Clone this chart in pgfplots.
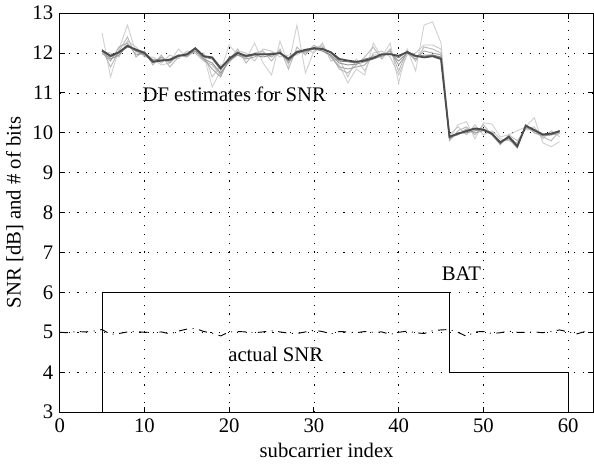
\documentclass[border=0pt]{standalone}
\usepackage{fontspec}
\setmainfont{Liberation Serif}
\usepackage{pgfplots}
\pgfplotsset{compat=1.18}
\begin{document}
\begin{tikzpicture}[font=\fontsize{11.2}{13.5}\selectfont]
\begin{axis}[
  scale only axis,
  width=289pt, height=216pt,
  xmin=0, xmax=63, ymin=3, ymax=13,
  xtick={0,10,20,30,40,50,60},
  ytick={3,4,5,6,7,8,9,10,11,12,13},
  tick align=inside, tick pos=both,
  major tick length=3pt,
  grid=major,
  grid style={black, line width=0.4pt, dash pattern=on 0.6pt off 4.2pt},
  axis line style={black, line width=0.5pt},
  every tick/.style={black, line width=0.5pt},
  /pgf/number format/assume math mode=true,
  xlabel={subcarrier index},
  ylabel={SNR [dB] and \# of bits},
  xlabel style={yshift=1pt},
  ylabel style={yshift=-2pt},
  tick label style={font=\fontsize{11.2}{13.5}\selectfont},
  label style={font=\fontsize{11.2}{13.5}\selectfont},
]
% light gray estimates
\addplot[color=black!18, line width=0.5pt] coordinates {
(5,12.50)(6,11.40)(7,12.10)(8,12.70)(9,12.00)(10,11.95)(11,11.85)(12,11.70)(13,11.75)(14,12.10)
(15,11.90)(16,12.05)(17,11.95)(18,11.15)(19,11.55)(20,12.20)(21,11.95)(22,11.85)(23,12.25)(24,11.75)
(25,11.45)(26,12.30)(27,11.70)(28,12.70)(29,11.50)(30,12.05)(31,12.20)(32,11.90)(33,11.70)(34,11.25)
(35,11.60)(36,11.45)(37,12.25)(38,11.90)(39,12.25)(40,11.25)(41,12.10)(42,11.55)(43,12.70)(44,12.78)
(45,12.25)(46,9.85)(47,10.20)(48,10.28)(49,9.85)(50,10.25)(51,10.22)(52,9.90)(53,9.95)(54,10.05)
(55,10.15)(56,10.38)(57,9.75)(58,9.65)(59,9.78)};
\addplot[color=black!22, line width=0.5pt] coordinates {
(5,12.02)(6,12.00)(7,11.90)(8,12.30)(9,12.15)(10,11.90)(11,11.90)(12,11.75)(13,11.95)(14,11.85)
(15,12.05)(16,12.00)(17,12.00)(18,11.40)(19,11.70)(20,11.75)(21,12.05)(22,12.00)(23,11.80)(24,12.10)
(25,12.05)(26,11.90)(27,11.95)(28,11.95)(29,12.10)(30,12.00)(31,12.25)(32,11.80)(33,11.85)(34,11.40)
(35,11.85)(36,11.55)(37,12.00)(38,12.05)(39,11.90)(40,11.45)(41,11.95)(42,12.00)(43,12.20)(44,12.20)
(45,12.10)(46,9.95)(47,10.15)(48,9.95)(49,10.20)(50,9.95)(51,10.05)(52,9.85)(53,9.80)(54,9.75)
(55,10.10)(56,10.15)(57,9.85)(58,10.05)(59,9.90)};
\addplot[color=black!28, line width=0.5pt] coordinates {
(5,12.10)(6,11.65)(7,12.05)(8,12.40)(9,11.90)(10,12.05)(11,11.70)(12,11.95)(13,11.65)(14,11.90)
(15,12.00)(16,12.00)(17,11.80)(18,11.70)(19,11.45)(20,11.80)(21,12.10)(22,11.75)(23,12.00)(24,12.05)
(25,11.80)(26,12.10)(27,11.60)(28,12.15)(29,11.95)(30,12.20)(31,12.05)(32,11.95)(33,11.60)(34,11.50)
(35,11.70)(36,11.90)(37,12.15)(38,11.85)(39,12.10)(40,11.55)(41,12.05)(42,11.80)(43,12.15)(44,12.10)
(45,12.00)(46,9.80)(47,10.05)(48,10.15)(49,9.95)(50,10.20)(51,9.95)(52,9.70)(53,9.95)(54,9.80)
(55,10.10)(56,10.05)(57,9.90)(58,9.80)(59,10.05)};
\addplot[color=black!35, line width=0.5pt] coordinates {
(5,12.00)(6,11.80)(7,12.15)(8,12.25)(9,11.95)(10,12.00)(11,11.75)(12,11.90)(13,11.75)(14,11.95)
(15,11.90)(16,12.10)(17,11.85)(18,11.60)(19,11.40)(20,11.90)(21,11.95)(22,11.85)(23,11.90)(24,12.00)
(25,11.90)(26,12.05)(27,11.75)(28,12.05)(29,12.00)(30,12.15)(31,12.15)(32,11.90)(33,11.65)(34,11.60)
(35,11.65)(36,11.70)(37,11.95)(38,11.95)(39,12.05)(40,11.70)(41,12.00)(42,11.85)(43,12.05)(44,12.00)
(45,11.95)(46,9.88)(47,9.95)(48,10.10)(49,10.00)(50,10.05)(51,10.00)(52,9.75)(53,9.85)(54,9.62)
(55,10.20)(56,10.00)(57,9.92)(58,9.95)(59,9.98)};
\addplot[color=black!42, line width=0.5pt] coordinates {
(5,12.05)(6,11.85)(7,11.95)(8,12.20)(9,12.05)(10,11.95)(11,11.80)(12,11.80)(13,11.85)(14,11.95)
(15,11.95)(16,12.05)(17,11.85)(18,11.75)(19,11.50)(20,11.80)(21,11.95)(22,11.90)(23,11.95)(24,11.90)
(25,11.95)(26,12.00)(27,11.80)(28,12.00)(29,12.05)(30,12.10)(31,12.05)(32,11.95)(33,11.75)(34,11.70)
(35,11.72)(36,11.78)(37,11.85)(38,11.92)(39,12.00)(40,11.80)(41,12.00)(42,11.90)(43,11.95)(44,11.95)
(45,11.90)(46,9.85)(47,10.00)(48,10.00)(49,10.05)(50,10.10)(51,9.95)(52,9.72)(53,9.92)(54,9.70)
(55,10.15)(56,10.05)(57,9.95)(58,9.95)(59,10.02)};
\addplot[color=black!50, line width=0.5pt] coordinates {
(5,12.08)(6,11.90)(7,12.00)(8,12.15)(9,12.10)(10,12.02)(11,11.82)(12,11.85)(13,11.80)(14,11.92)
(15,11.98)(16,12.10)(17,11.90)(18,11.85)(19,11.58)(20,11.88)(21,12.02)(22,11.90)(23,11.98)(24,11.95)
(25,12.00)(26,11.98)(27,11.88)(28,12.05)(29,12.05)(30,12.10)(31,12.12)(32,12.00)(33,11.80)(34,11.78)
(35,11.75)(36,11.85)(37,11.90)(38,11.95)(39,11.98)(40,11.88)(41,12.05)(42,11.92)(43,11.92)(44,11.95)
(45,11.88)(46,9.92)(47,9.96)(48,10.06)(49,10.08)(50,10.06)(51,9.96)(52,9.78)(53,9.88)(54,9.68)
(55,10.16)(56,10.08)(57,9.94)(58,9.96)(59,10.06)};
% dark estimate
\addplot[color=black!70, line width=1pt] coordinates {
(5,12.06)(6,11.93)(7,12.02)(8,12.18)(9,12.08)(10,12.00)(11,11.78)(12,11.81)(13,11.83)(14,11.93)
(15,11.96)(16,12.12)(17,11.92)(18,11.89)(19,11.62)(20,11.85)(21,12.00)(22,11.93)(23,11.97)(24,11.97)
(25,11.97)(26,12.00)(27,11.85)(28,12.02)(29,12.08)(30,12.12)(31,12.10)(32,12.02)(33,11.85)(34,11.81)
(35,11.78)(36,11.81)(37,11.87)(38,11.97)(39,11.97)(40,11.93)(41,12.02)(42,11.93)(43,11.89)(44,11.92)
(45,11.85)(46,9.90)(47,9.98)(48,10.04)(49,10.11)(50,10.08)(51,9.98)(52,9.76)(53,9.90)(54,9.66)
(55,10.18)(56,10.07)(57,9.96)(58,9.98)(59,10.04)};
% BAT
\addplot[black, line width=0.6pt] coordinates {(5,3)(5,6)(46,6)(46,4)(60,4)(60,3)};
% actual SNR
\addplot[black, line width=0.5pt, dash pattern=on 4.5pt off 3pt on 0.5pt off 3pt] coordinates {
(0,5.00)(1,4.99)(2,5.02)(3,5.01)(4,5.03)(5,5.07)(6,4.95)(7,4.97)(8,5.01)(9,5.02)
(10,5.00)(11,4.99)(12,5.01)(13,4.96)(14,5.03)(15,5.08)(16,5.10)(17,5.02)(18,4.98)(19,4.91)
(20,5.01)(21,5.02)(22,5.01)(23,4.99)(24,5.01)(25,5.04)(26,5.01)(27,4.98)(28,4.97)(29,5.01)
(30,5.05)(31,5.02)(32,4.96)(33,5.02)(34,5.01)(35,4.99)(36,5.02)(37,5.00)(38,5.01)(39,4.95)
(40,5.00)(41,5.03)(42,4.99)(43,4.97)(44,5.04)(45,5.06)(46,5.07)(47,5.00)(48,4.90)(49,5.01)
(50,5.02)(51,4.97)(52,4.99)(53,5.03)(54,5.00)(55,5.00)(56,5.01)(57,4.99)(58,5.02)(59,5.06)
(60,5.01)(61,4.96)(62,5.02)(63,4.98)};
\node at (axis cs:20.6,10.96) {DF estimates for SNR};
\node at (axis cs:25.5,4.45) {actual SNR};
\node at (axis cs:47.4,6.47) {BAT};
\end{axis}
\end{tikzpicture}
\end{document}
